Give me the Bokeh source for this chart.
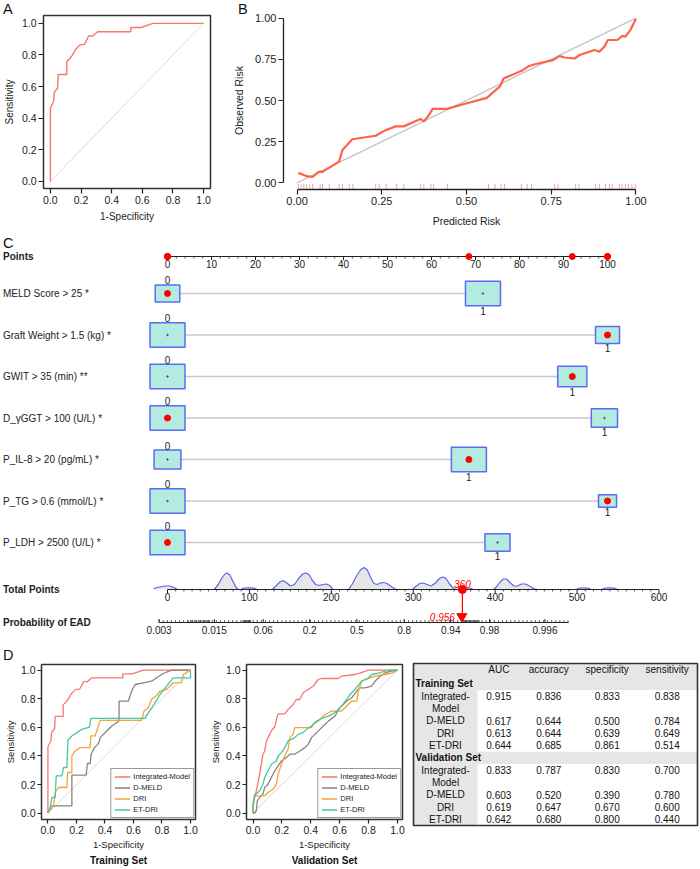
import math
from bokeh.plotting import figure
from bokeh.layouts import column, row
from bokeh.models import (Range1d, FixedTicker, NumeralTickFormatter, Title, Legend, LegendItem)
from bokeh.core.properties import value
from bokeh.embed import file_html
from bokeh.resources import INLINE

FONT = "Liberation Sans"
RED = "#ff0000"

# ---------------- DATA ----------------
# Panel A / D (training) ROC of the integrated model
int_train_fpr = [0.0, 0.0, 0.021, 0.026, 0.047, 0.051, 0.107, 0.107, 0.137, 0.165, 0.193, 0.223,
                 0.250, 0.276, 0.308, 0.525, 0.525, 0.593, 0.668, 1.0]
int_train_tpr = [0.0, 0.464, 0.506, 0.566, 0.590, 0.677, 0.677, 0.757, 0.789, 0.836, 0.864, 0.868,
                 0.920, 0.920, 0.947, 0.947, 0.974, 0.974, 1.0, 1.0]
diag = [0.0, 1.0]
roc_ticks = [0.0, 0.2, 0.4, 0.6, 0.8, 1.0]

# Panel B calibration
cal_pred = [0.004, 0.022, 0.028, 0.046, 0.064, 0.075, 0.124, 0.134, 0.163, 0.232, 0.261, 0.291,
            0.315, 0.364, 0.374, 0.388, 0.400, 0.442, 0.496, 0.560, 0.585, 0.599, 0.609, 0.663,
            0.683, 0.702, 0.755, 0.775, 0.790, 0.819, 0.834, 0.878, 0.892, 0.907, 0.917, 0.945,
            0.960, 0.969, 0.984, 1.000]
cal_obs = [0.061, 0.047, 0.041, 0.037, 0.067, 0.067, 0.129, 0.200, 0.265, 0.286, 0.320, 0.343,
           0.343, 0.388, 0.373, 0.408, 0.449, 0.449, 0.480, 0.516, 0.561, 0.586, 0.633, 0.680,
           0.708, 0.720, 0.745, 0.769, 0.761, 0.755, 0.776, 0.806, 0.796, 0.827, 0.867, 0.867,
           0.892, 0.888, 0.929, 0.996]
rug_pred = [0.004, 0.012, 0.020, 0.028, 0.038, 0.046, 0.068, 0.075, 0.095, 0.124, 0.134, 0.154,
            0.165, 0.232, 0.242, 0.263, 0.294, 0.315, 0.364, 0.374, 0.395, 0.403, 0.444, 0.565,
            0.584, 0.602, 0.612, 0.662, 0.679, 0.692, 0.760, 0.770, 0.822, 0.832, 0.881, 0.892,
            0.910, 0.922, 0.930, 0.951, 0.959, 0.969, 0.978, 0.988, 0.998]
cal_ticks = [0.0, 0.25, 0.5, 0.75, 1.0]

# Panel C nomogram
nomo_vars = ["MELD Score > 25 *", "Graft Weight > 1.5 (kg) *", "GWIT > 35 (min) **",
             "D_\u03b3GGT > 100 (U/L) *", "P_IL-8 > 20 (pg/mL) *", "P_TG > 0.6 (mmol/L) *",
             "P_LDH > 2500 (U/L) *"]
nomo_pts1 = [71.7, 100.0, 92.0, 99.3, 68.5, 100.0, 75.0]    # points for level 1 (level 0 = 0)
nomo_freq0 = [0.33, 0.68, 0.59, 0.64, 0.37, 0.79, 0.66]     # share of level 0
nomo_sel = [0, 1, 1, 0, 1, 1, 0]                            # selected patient's level
pts_ticks = [0, 10, 20, 30, 40, 50, 60, 70, 80, 90, 100]
tot_ticks = [0, 100, 200, 300, 400, 500, 600]
prob_ticks = [0.003, 0.015, 0.06, 0.2, 0.5, 0.8, 0.94, 0.98, 0.996]
prob_labels = ["0.003", "0.015", "0.06", "0.2", "0.5", "0.8", "0.94", "0.98", "0.996"]
lp_intercept = -5.56
lp_slope = 0.02404
patient_total = 360
patient_prob = 0.956
dens_pts = [-17, -10, -3, 3, 8, 12,
            57, 62, 66, 70, 73, 76, 80, 83, 86,
            90, 93, 100, 106, 109,
            128, 133, 137, 141, 145, 150, 155, 160, 165, 169, 173, 177, 181, 185, 190, 194, 198, 202,
            221, 226, 231, 236, 240, 244, 248, 252, 256, 260, 264, 268, 273, 279,
            299, 303, 308, 312, 317, 322, 327, 332, 336, 340, 344, 348, 352,
            362, 366, 370, 373,
            398, 402, 406, 410, 414, 418, 423, 427, 432, 437, 442, 447, 451,
            499, 503, 510, 515, 517,
            530, 534, 540, 546, 550]
dens_h = [1, 2.5, 3.5, 3.5, 2, 0,
          0, 5, 11, 15.5, 16.5, 14.5, 8, 3, 0,
          0, 1.5, 1.7, 1.3, 0,
          0, 4, 7.5, 9, 7, 3.5, 5, 11, 15.5, 16.5, 14.5, 9, 5, 4, 5, 5.5, 4, 0,
          0, 6, 14, 20, 22, 19.5, 12, 6, 5, 6.5, 7, 6, 3, 0,
          0, 3, 6, 6.5, 5, 3.5, 6.5, 11, 12.5, 11, 6, 2, 0,
          0, 1.5, 1.5, 0,
          0, 3, 7.5, 10.5, 10.5, 7, 3.5, 3.5, 5.5, 5.5, 3.5, 1, 0,
          0, 1.5, 1.7, 1, 0,
          0, 1.5, 1.7, 1.3, 0]

# Panel D ROC curves
roc_models = ["Integrated-Model", "D-MELD", "DRI", "ET-DRI"]
roc_colors = ["#F8766D", "#8E817A", "#F7A134", "#43C9A0"]
dmeld_train_fpr = [0.0, 0.021, 0.168, 0.168, 0.268, 0.277, 0.296, 0.303, 0.326, 0.35, 0.361, 0.366,
                   0.413, 0.448, 0.499, 0.499, 0.564, 0.587, 0.611, 0.669, 0.727, 0.762, 0.809, 0.867, 1.0]
dmeld_train_tpr = [0.0, 0.051, 0.051, 0.265, 0.265, 0.347, 0.347, 0.412, 0.458, 0.481, 0.505, 0.528,
                   0.574, 0.609, 0.644, 0.784, 0.784, 0.853, 0.9, 0.912, 0.923, 0.947, 0.977, 1.0, 1.0]
dri_train_fpr = [0.0, 0.04, 0.051, 0.075, 0.133, 0.138, 0.168, 0.168, 0.191, 0.226, 0.296, 0.301,
                 0.331, 0.366, 0.657, 0.674, 0.704, 0.727, 0.758, 0.786, 0.832, 0.879, 0.937, 0.949,
                 0.984, 1.0]
dri_train_tpr = [0.0, 0.051, 0.144, 0.179, 0.179, 0.284, 0.284, 0.4, 0.435, 0.458, 0.458, 0.54,
                 0.54, 0.649, 0.649, 0.714, 0.737, 0.795, 0.819, 0.853, 0.865, 0.912, 0.912, 0.97,
                 0.993, 1.0]
etdri_train_fpr = [0.0, 0.016, 0.028, 0.051, 0.058, 0.098, 0.11, 0.133, 0.14, 0.168, 0.203, 0.238,
                   0.291, 0.301, 0.681, 0.704, 0.727, 0.758, 0.786, 0.832, 0.879, 1.0, 1.0]
etdri_train_tpr = [0.0, 0.04, 0.109, 0.109, 0.26, 0.26, 0.319, 0.319, 0.512, 0.54, 0.563, 0.586,
                   0.602, 0.663, 0.663, 0.702, 0.737, 0.784, 0.83, 0.888, 0.947, 0.947, 1.0]
int_valid_fpr = [0.0, 0.0, 0.012, 0.023, 0.046, 0.058, 0.069, 0.081, 0.093, 0.104, 0.127, 0.139, 0.15,
                 0.162, 0.174, 0.22, 0.243, 0.278, 0.30, 0.324, 0.347, 0.382, 0.417, 0.451, 0.475,
                 0.59, 0.613, 0.706, 0.74, 0.80, 1.0]
int_valid_tpr = [0.0, 0.04, 0.109, 0.156, 0.272, 0.342, 0.412, 0.435, 0.505, 0.528, 0.574, 0.593, 0.6,
                 0.656, 0.695, 0.695, 0.726, 0.76, 0.795, 0.795, 0.842, 0.865, 0.888, 0.935, 0.942,
                 0.942, 0.958, 0.97, 0.98, 1.0, 1.0]
dmeld_valid_fpr = [0.0, 0.012, 0.023, 0.03, 0.046, 0.069, 0.081, 0.104, 0.127, 0.15, 0.174, 0.197,
                   0.231, 0.255, 0.289, 0.324, 0.359, 0.382, 0.405, 0.428, 0.463, 0.486, 0.521,
                   0.567, 0.602, 0.648, 0.683, 0.718, 0.741, 0.775, 0.822, 0.845, 0.88, 0.914, 0.96, 1.0]
dmeld_valid_tpr = [0.0, 0.0, 0.016, 0.086, 0.109, 0.133, 0.18, 0.202, 0.249, 0.295, 0.33, 0.365,
                   0.388, 0.412, 0.412, 0.435, 0.458, 0.481, 0.528, 0.551, 0.586, 0.609, 0.642,
                   0.679, 0.737, 0.784, 0.807, 0.853, 0.877, 0.877, 0.888, 0.923, 0.958, 0.981, 0.993, 1.0]
dri_valid_fpr = [0.0, 0.0, 0.012, 0.081, 0.104, 0.139, 0.162, 0.174, 0.197, 0.22, 0.243, 0.255,
                 0.278, 0.289, 0.405, 0.417, 0.451, 0.486, 0.521, 0.544, 0.613, 0.637, 0.683, 0.718,
                 0.729, 0.752, 0.81, 0.845, 0.914, 0.96, 1.0]
dri_valid_tpr = [0.0, 0.06, 0.121, 0.121, 0.144, 0.167, 0.202, 0.272, 0.342, 0.40, 0.447, 0.528,
                 0.551, 0.598, 0.598, 0.621, 0.644, 0.679, 0.702, 0.714, 0.714, 0.737, 0.784, 0.784,
                 0.853, 0.923, 0.947, 0.958, 0.97, 0.98, 1.0]
etdri_valid_fpr = [0.0, 0.0, 0.012, 0.023, 0.046, 0.069, 0.081, 0.104, 0.127, 0.162, 0.174, 0.197,
                   0.22, 0.243, 0.289, 0.312, 0.347, 0.37, 0.405, 0.44, 0.486, 0.521, 0.567, 0.613,
                   0.648, 0.671, 0.706, 0.752, 0.799, 0.822, 0.868, 0.914, 0.949, 1.0]
etdri_valid_tpr = [0.0, 0.06, 0.133, 0.133, 0.156, 0.202, 0.249, 0.295, 0.342, 0.365, 0.40, 0.423,
                   0.458, 0.505, 0.528, 0.551, 0.563, 0.586, 0.609, 0.644, 0.667, 0.679, 0.702, 0.749,
                   0.795, 0.83, 0.865, 0.923, 0.947, 0.97, 0.98, 0.993, 1.0, 1.0]

# Panel D table
tbl_cols = ["AUC", "accuracy", "specificity", "sensitivity"]
tbl_sets = ["Training Set", "Validation Set"]
tbl_models = ["Integrated-Model", "D-MELD", "DRI", "ET-DRI"]
train_auc = [0.915, 0.617, 0.613, 0.644]
train_acc = [0.836, 0.644, 0.644, 0.685]
train_spe = [0.833, 0.500, 0.639, 0.861]
train_sen = [0.838, 0.784, 0.649, 0.514]
valid_auc = [0.833, 0.603, 0.619, 0.642]
valid_acc = [0.787, 0.520, 0.647, 0.680]
valid_spe = [0.830, 0.390, 0.670, 0.800]
valid_sen = [0.700, 0.780, 0.600, 0.440]


# ---------------- helpers ----------------
def no_align(p):
    if "frame_align" in p.properties():
        p.frame_align = False
    return p


def make_fig(width, height, left, right, top, bottom, xr, yr, **kw):
    p = figure(width=width, height=height, x_range=xr, y_range=yr,
               min_border_left=left, min_border_right=right, min_border_top=top,
               min_border_bottom=bottom, output_backend="svg", toolbar_location=None, **kw)
    p.grid.grid_line_color = None
    p.background_fill_color = "white"
    p.border_fill_color = "white"
    return no_align(p)


def bare_fig(width, height, xr, yr):
    p = figure(width=width, height=height, x_range=xr, y_range=yr, x_axis_location=None,
               y_axis_location=None, min_border=0, output_backend="svg", toolbar_location=None)
    p.outline_line_color = None
    p.grid.grid_line_color = None
    return no_align(p)


def style_axes(p, ticks, fmt, tick_size, label_size, show_line=False, bounds=None,
               tick_out=4, label_standoff=2, axis_standoff=2):
    for ax in (p.xaxis[0], p.yaxis[0]):
        ax.ticker = FixedTicker(ticks=ticks)
        ax.formatter = NumeralTickFormatter(format=fmt)
        if show_line:
            ax.axis_line_color = "#222222"
            ax.axis_line_width = 1.3
        else:
            ax.axis_line_color = None
        if bounds is not None:
            ax.bounds = bounds
        ax.major_tick_line_color = "#222222"
        ax.major_tick_line_width = 1.2
        ax.major_tick_in = 0
        ax.major_tick_out = tick_out
        ax.minor_tick_line_color = None
        ax.major_label_text_font = FONT
        ax.major_label_text_font_size = tick_size
        ax.major_label_text_color = "#222222"
        ax.major_label_standoff = label_standoff
        ax.axis_label_text_font = FONT
        ax.axis_label_text_font_size = label_size
        ax.axis_label_text_font_style = "normal"
        ax.axis_label_text_color = "#222222"
        ax.axis_label_standoff = axis_standoff


letter_style = dict(text_font=value(FONT), text_font_size=value("14.5px"), text_baseline="top",
                    text_align="left", text_color="#111111")

# ---------------- Panel A ----------------
pA = make_fig(230, 230, 41, 20, 15, 42, Range1d(-0.045, 1.045), Range1d(-0.045, 1.05))
pA.outline_line_color = "#333333"
pA.outline_line_width = 1.5
pA.xaxis.axis_label = "1-Specificity"
pA.yaxis.axis_label = "Sensitivity"
style_axes(pA, roc_ticks, "0.0", "10.5px", "10px", tick_out=5, label_standoff=2, axis_standoff=4)
pA.line(diag, diag, line_color="#d9d9d9", line_width=1)
pA.line(int_train_fpr, int_train_tpr, line_color="#F8766D", line_width=1.4)

# ---------------- Panel B ----------------
pB = make_fig(470, 230, 51, 51, 11, 41, Range1d(-0.04, 1.04), Range1d(-0.04, 1.04))
pB.outline_line_color = None
pB.xaxis.axis_label = "Predicted Risk"
pB.yaxis.axis_label = "Observed Risk"
style_axes(pB, cal_ticks, "0.00", "11px", "10.5px", show_line=True, bounds=(0, 1),
           tick_out=5, label_standoff=2, axis_standoff=7)
pB.line(diag, diag, line_color="#c4c4c4", line_width=1.3)
pB.segment(x0=rug_pred, y0=[-0.036] * len(rug_pred), x1=rug_pred, y1=[-0.007] * len(rug_pred),
           line_color="#F5A39C", line_width=1)
pB.line(cal_pred, cal_obs, line_color="#FF6347", line_width=2.2)

# ---------------- Panel C (nomogram) ----------------
PX0, PX100, TX600 = 167.0, 607.0, 658.5
C_TOP, C_BOT = 230, 661


def pts_at(px):
    return (px - PX0) * 100.0 / (PX100 - PX0)


def tot_at(px):
    return (px - PX0) * 600.0 / (TX600 - PX0)


def tot_of_prob(p):
    return (math.log(p / (1 - p)) - lp_intercept) / lp_slope


pC = bare_fig(700, C_BOT - C_TOP, Range1d(pts_at(0), pts_at(700)), Range1d(C_BOT, C_TOP))
pC.extra_x_ranges = {"tot": Range1d(tot_at(0), tot_at(700))}
XL = pts_at(2.5)

txt = dict(text_font=value(FONT), text_font_size=value("10px"), text_color="#222222")

pC.text(x=[pts_at(2.5)], y=[234], text=["C"], **letter_style)
Y_PTS, Y_TOT, Y_PROB = 256, 589, 622
pC.text(x=[XL] * 3, y=[Y_PTS, Y_TOT, Y_PROB], text=["Points", "Total Points", "Probability of EAD"],
        text_font_style="bold", text_baseline="middle", text_align="left", **txt)

# Points axis
pts_minor = [v for v in range(0, 101, 2) if v % 10]
pC.segment(x0=[pts_ticks[0]], y0=[Y_PTS], x1=[pts_ticks[-1]], y1=[Y_PTS], line_color="#222222", line_width=1)
pC.segment(x0=pts_ticks, y0=[Y_PTS] * len(pts_ticks), x1=pts_ticks, y1=[Y_PTS + 3.5] * len(pts_ticks),
           line_color="#222222", line_width=1)
pC.segment(x0=pts_minor, y0=[Y_PTS] * len(pts_minor), x1=pts_minor, y1=[Y_PTS + 2] * len(pts_minor),
           line_color="#222222", line_width=0.8)
pC.text(x=pts_ticks, y=[Y_PTS + 3.5] * len(pts_ticks), text=[str(v) for v in pts_ticks],
        text_baseline="top", text_align="center", **txt)

# variable rows
row_y = [293 + 41.5 * i for i in range(len(nomo_vars))]
pC.text(x=[XL] * len(nomo_vars), y=row_y, text=nomo_vars, text_baseline="middle", text_align="left", **txt)
pC.segment(x0=[0] * len(nomo_vars), y0=row_y, x1=nomo_pts1, y1=row_y, line_color="#c8c8c8", line_width=1.3)
w0, w1 = [], []
for f0 in nomo_freq0:
    f1 = 1 - f0
    m = max(f0, f1)
    w0.append(35 * math.sqrt(f0 / m))
    w1.append(35 * math.sqrt(f1 / m))
h0 = [w * 0.7 for w in w0]
h1 = [w * 0.7 for w in w1]
bx = [0] * len(nomo_vars) + nomo_pts1
by = row_y + row_y
pC.rect(x=bx, y=by, width=w0 + w1, height=h0 + h1, width_units="screen", height_units="screen",
        fill_color="#B3EBE0", line_color="#5C6CF2", line_width=1.5)
pC.scatter(x=bx, y=by, size=1.5, color="#555555")
sel_x = [nomo_pts1[i] if s else 0 for i, s in enumerate(nomo_sel)]
pC.scatter(x=sel_x, y=row_y, size=6, color=RED)
pC.text(x=[0] * len(nomo_vars), y=[row_y[i] - h0[i] / 2 - 0.5 for i in range(len(row_y))],
        text=["0"] * len(nomo_vars), text_baseline="bottom", text_align="center", **txt)
pC.text(x=nomo_pts1, y=[row_y[i] + h1[i] / 2 + 1 for i in range(len(row_y))],
        text=["1"] * len(nomo_vars), text_baseline="top", text_align="center", **txt)
pC.scatter(x=sel_x, y=[Y_PTS] * len(sel_x), size=6, color=RED)

# density of total points
dens_y = [Y_TOT - h for h in dens_h]
pC.varea(x=dens_pts, y1=[Y_TOT] * len(dens_pts), y2=dens_y, fill_color="#E6E6E6", x_range_name="tot")
pC.line(x=dens_pts, y=dens_y, line_color="#5A66F0", line_width=1.2, x_range_name="tot")

# Total points axis
tot_minor = [v for v in range(0, 601, 10) if v % 100]
pC.segment(x0=[tot_ticks[0]], y0=[Y_TOT], x1=[tot_ticks[-1]], y1=[Y_TOT], line_color="#222222",
           line_width=1, x_range_name="tot")
pC.segment(x0=tot_ticks, y0=[Y_TOT] * len(tot_ticks), x1=tot_ticks, y1=[Y_TOT + 3.5] * len(tot_ticks),
           line_color="#222222", x_range_name="tot")
pC.segment(x0=tot_minor, y0=[Y_TOT] * len(tot_minor), x1=tot_minor, y1=[Y_TOT + 2] * len(tot_minor),
           line_color="#222222", line_width=0.8, x_range_name="tot")
pC.text(x=tot_ticks, y=[Y_TOT + 3.5] * len(tot_ticks), text=[str(v) for v in tot_ticks],
        text_baseline="top", text_align="center", x_range_name="tot", **txt)

# Probability axis
lo, hi = math.log(0.003 / 0.997), math.log(0.998 / 0.002)
prob_minor_lp = [lo + 0.12 * i for i in range(int((hi - lo) / 0.12) + 1)]
prob_minor = [(lp - lp_intercept) / lp_slope for lp in prob_minor_lp]
prob_minor += [tot_of_prob(0.007 + 0.0005 * i) for i in range(13)]
prob_minor += [tot_of_prob(0.034 + 0.001 * i) for i in range(9)]
prob_minor += [tot_of_prob(0.958 + 0.001 * i) for i in range(16)]
prob_major = [tot_of_prob(p) for p in prob_ticks]
pC.segment(x0=[tot_of_prob(0.003)], y0=[Y_PROB], x1=[tot_of_prob(0.998)], y1=[Y_PROB],
           line_color="#222222", line_width=1, x_range_name="tot")
pC.segment(x0=prob_minor, y0=[Y_PROB] * len(prob_minor), x1=prob_minor, y1=[Y_PROB - 2.5] * len(prob_minor),
           line_color="#222222", line_width=0.7, x_range_name="tot")
pC.segment(x0=prob_major, y0=[Y_PROB] * len(prob_major), x1=prob_major, y1=[Y_PROB - 3.5] * len(prob_major),
           line_color="#222222", line_width=1, x_range_name="tot")
pC.text(x=prob_major, y=[Y_PROB + 3] * len(prob_major), text=prob_labels,
        text_baseline="top", text_align="center", x_range_name="tot", **txt)

# selected patient
pC.segment(x0=[patient_total], y0=[Y_TOT], x1=[patient_total], y1=[Y_PROB - 9], line_color=RED,
           line_width=1.2, x_range_name="tot")
pC.scatter(x=[patient_total], y=[Y_TOT], size=8, color=RED, x_range_name="tot")
pC.scatter(x=[tot_of_prob(patient_prob)], y=[Y_PROB - 6], marker="inverted_triangle", size=10,
           color=RED, x_range_name="tot")
pC.text(x=[patient_total], y=[Y_TOT - 1.5], text=[str(patient_total)], text_font=value(FONT),
        text_font_size=value("10px"), text_font_style="italic", text_color=RED,
        text_baseline="bottom", text_align="center", x_range_name="tot")
pC.text(x=[tot_of_prob(patient_prob)], y=[Y_PROB - 6], text=["%.3f" % patient_prob],
        x_offset=-7, text_font=value(FONT), text_font_size=value("10px"), text_font_style="italic",
        text_color=RED, text_baseline="middle", text_align="right", x_range_name="tot")

# ---------------- Panel D ----------------
D_H = 869 - C_BOT


def roc_panel(width, left, right, title, curves):
    p = make_fig(width, D_H, left, right, 664 - C_BOT, 869 - 819,
                 Range1d(-0.045, 1.035), Range1d(-0.045, 1.04))
    p.outline_line_color = "#333333"
    p.outline_line_width = 1.5
    p.xaxis.axis_label = "1-Specificity"
    p.yaxis.axis_label = "Sensitivity"
    style_axes(p, roc_ticks, "0.0", "10.5px", "9.5px", tick_out=4, label_standoff=2, axis_standoff=2)
    p.line(diag, diag, line_color="#d6d6d6", line_width=1)
    rends = []
    for (fx, fy), col in zip(curves, roc_colors):
        rends.append(p.line(fx, fy, line_color=col, line_width=1.3))
    items = [LegendItem(label=m, renderers=[r]) for m, r in zip(roc_models, rends)]
    leg = Legend(items=items, location="bottom_right", label_text_font=FONT,
                 label_text_font_size="7.5px", label_text_color="#222222", glyph_width=16,
                 glyph_height=9, label_height=9, spacing=2, padding=3, margin=1,
                 label_standoff=3, border_line_color="#333333", border_line_width=1,
                 background_fill_alpha=1.0)
    p.add_layout(leg)
    p.add_layout(Title(text=title, align="center", text_font=FONT, text_font_size="10px",
                       text_font_style="bold", text_color="#111111", standoff=1), "below")
    return p


pD1 = roc_panel(205, 41, 10, "Training Set",
                [(int_train_fpr, int_train_tpr), (dmeld_train_fpr, dmeld_train_tpr),
                 (dri_train_fpr, dri_train_tpr), (etdri_train_fpr, etdri_train_tpr)])
pD2 = roc_panel(205, 41, 8, "Validation Set",
                [(int_valid_fpr, int_valid_tpr), (dmeld_valid_fpr, dmeld_valid_tpr),
                 (dri_valid_fpr, dri_valid_tpr), (etdri_valid_fpr, etdri_valid_tpr)])

# table (local coords: x = page x - 410, y = page y - C_BOT)
pT = bare_fig(290, D_H, Range1d(0, 290), Range1d(D_H, 0))
oy = C_BOT
TL, TR, TT, TB = 3, 287, 663 - oy, 825 - oy
LAB_R = 67
col_x = [88.3, 138.3, 196.7, 256.7]
lab_x = 35
step = 12.33
y_head = 669 - oy
y_sec = [683.3 - oy, 683.3 - oy + 6 * step]
GRAY = "#E6E6E6"
pT.quad(left=[TL, TL, TL], right=[TR, LAB_R, TR], top=[TT, y_sec[0] + 6.1, y_sec[1] - 6.1],
        bottom=[y_sec[0] + 6.1, TB, y_sec[1] + 6.1], fill_color=GRAY, line_color=None)
tt = dict(text_font=value(FONT), text_font_size=value("10px"), text_color="#111111", text_baseline="middle")
pT.text(x=col_x, y=[y_head] * 4, text=tbl_cols, text_align="center", **tt)
pT.text(x=[TL + 2, TL + 2], y=y_sec, text=tbl_sets, text_align="left", text_font_style="bold", **tt)
sets = [(train_auc, train_acc, train_spe, train_sen), (valid_auc, valid_acc, valid_spe, valid_sen)]
for s, vals in enumerate(sets):
    y = y_sec[s] + step
    for m, name in enumerate(tbl_models):
        if "-Model" in name:
            a, b = name.split("-")
            pT.text(x=[lab_x, lab_x], y=[y, y + step], text=[a + "-", b], text_align="center", **tt)
        else:
            pT.text(x=[lab_x], y=[y], text=[name], text_align="center", **tt)
        pT.text(x=col_x, y=[y] * 4, text=["%.3f" % v[m] for v in vals], text_align="center", **tt)
        y += 2 * step if "-Model" in name else step
pT.quad(left=[TL], right=[TR], top=[TT], bottom=[TB], fill_color=None, line_color="#333333",
        line_width=1.6)

# transparent full-page overlay carrying the panel letters A, B and D
pL = bare_fig(700, 869, Range1d(0, 700), Range1d(869, 0))
pL.border_fill_color = None
pL.background_fill_color = None
pL.text(x=[2.5, 237.5, 2.5], y=[0.5, 0.5, 646.5], text=["A", "B", "D"], **letter_style)
pL.margin = (-869, 0, 0, 0)

layout = column(row(pA, pB), pC, row(pD1, pD2, pT), pL)
open("out.html", "w").write(file_html(layout, INLINE))
